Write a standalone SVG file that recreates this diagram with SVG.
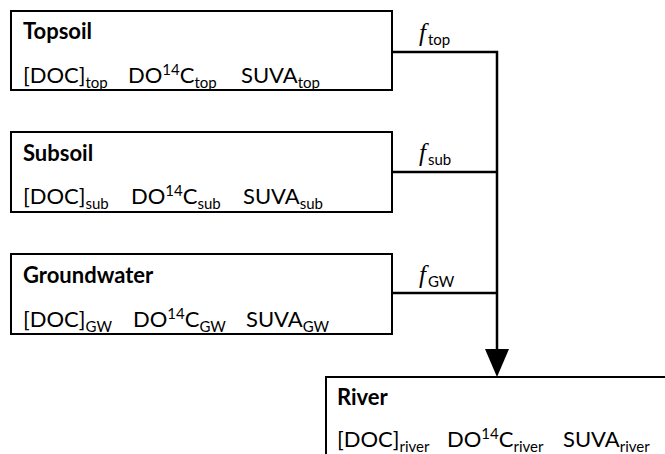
<svg xmlns="http://www.w3.org/2000/svg" width="665" height="454" viewBox="0 0 665 454">
<style>
.box{fill:#fff;stroke:#000;stroke-width:2}
.t{font-family:Lato,"Liberation Sans",sans-serif;font-size:22px;fill:#000}
.b{font-weight:bold}
.s{font-size:15px}
.f{font-family:"Liberation Serif",serif;font-style:italic;font-size:25px}
.line{fill:none;stroke:#000;stroke-width:2.5}
</style>
<g id="connectors">
<path class="line" d="M392,52 H497 V350"/>
<path class="line" d="M392,172 H497"/>
<path class="line" d="M392,293 H497"/>
<path d="M485,349 L509,349 L497,377 Z" fill="#000"/>
<text class="t" x="419" y="41"><tspan class="f">f</tspan><tspan class="s" dx="2" dy="4">top</tspan></text>
<text class="t" x="419" y="161"><tspan class="f">f</tspan><tspan class="s" dx="2" dy="4">sub</tspan></text>
<text class="t" x="419" y="283"><tspan class="f">f</tspan><tspan class="s" dx="2" dy="4">GW</tspan></text>
</g>
<g id="topsoil">
<rect class="box" x="11" y="11" width="381" height="79"/>
<text class="t b" x="23" y="39">Topsoil</text>
<text class="t" x="23" y="83">[DOC]<tspan class="s" dy="5">top</tspan></text>
<text class="t" x="128" y="83">DO<tspan class="s" dy="-8">14</tspan><tspan dy="8">C</tspan><tspan class="s" dy="5">top</tspan></text>
<text class="t" x="241" y="83">SUVA<tspan class="s" dy="5">top</tspan></text>
</g>
<g id="subsoil">
<rect class="box" x="11" y="132" width="381" height="80"/>
<text class="t b" x="23" y="161">Subsoil</text>
<text class="t" x="23" y="204">[DOC]<tspan class="s" dy="5">sub</tspan></text>
<text class="t" x="131" y="204">DO<tspan class="s" dy="-8">14</tspan><tspan dy="8">C</tspan><tspan class="s" dy="5">sub</tspan></text>
<text class="t" x="243" y="204">SUVA<tspan class="s" dy="5">sub</tspan></text>
</g>
<g id="groundwater">
<rect class="box" x="11" y="254" width="381" height="80"/>
<text class="t b" x="23" y="283">Groundwater</text>
<text class="t" x="23" y="327">[DOC]<tspan class="s" dy="5">GW</tspan></text>
<text class="t" x="133" y="327">DO<tspan class="s" dy="-8">14</tspan><tspan dy="8">C</tspan><tspan class="s" dy="5">GW</tspan></text>
<text class="t" x="246" y="327">SUVA<tspan class="s" dy="5">GW</tspan></text>
</g>
<g id="river">
<rect class="box" x="326" y="377" width="345" height="90"/>
<text class="t b" x="337" y="405">River</text>
<text class="t" x="337" y="447">[DOC]<tspan class="s" dy="5">river</tspan></text>
<text class="t" x="447" y="447">DO<tspan class="s" dy="-8">14</tspan><tspan dy="8">C</tspan><tspan class="s" dy="5">river</tspan></text>
<text class="t" x="563" y="447">SUVA<tspan class="s" dy="5">river</tspan></text>
</g>
</svg>
